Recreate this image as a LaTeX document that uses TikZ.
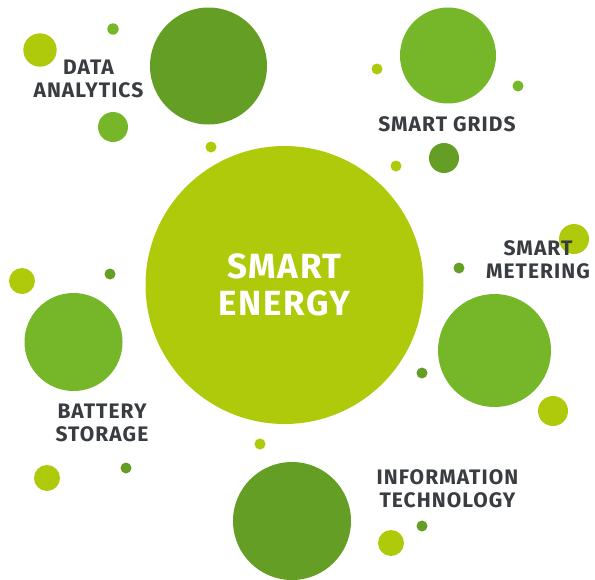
\documentclass[tikz,border=0pt]{standalone}
\usepackage{fontspec}
\setmainfont{Fira Sans}[LetterSpace=5]
\usepackage{tikz}

\definecolor{lime}{HTML}{AFCA0B}
\definecolor{midgreen}{HTML}{76B72A}
\definecolor{darkgreen}{HTML}{659E24}
\definecolor{labelgray}{HTML}{393C40}

\tikzset{
	label text/.style = {text = labelgray, align = center, inner sep = 0pt,
		font = \fontsize{21}{23}\selectfont\bfseries},
	core text/.style = {text = white, align = center, inner sep = 0pt,
		font = \fontsize{35}{37}\selectfont\bfseries}
}

\begin{document}
\begin{tikzpicture}[x = 1pt, y = -1pt]
		\useasboundingbox (0,0) rectangle (595,579);
		% big circles
		\fill[lime](284.5,285) circle[radius = 139pt];
		\fill[darkgreen](208.5,66) circle[radius = 58.5pt];
		\fill[midgreen](448,55.5) circle[radius = 48pt];
		\fill[midgreen](494.5,350.5) circle[radius = 56.5pt];
		\fill[midgreen](73.5,342) circle[radius = 49pt];
		\fill[darkgreen](292,521) circle[radius = 59pt];
		% medium dots
		\fill[lime](40,50) circle[radius = 16.7pt];
		\fill[midgreen](113,127) circle[radius = 15pt];
		\fill[darkgreen](444,158) circle[radius = 15pt];
		\fill[lime](574,239) circle[radius = 15pt];
		\fill[lime](553,411) circle[radius = 15pt];
		\fill[lime](22,281) circle[radius = 13pt];
		\fill[lime](47,478) circle[radius = 13pt];
		\fill[lime](391,543) circle[radius = 13pt];
		% small dots
		\fill[midgreen](113,29) circle[radius = 5.7pt];
		\fill[lime](211,147) circle[radius = 5.5pt];
		\fill[lime](377,69) circle[radius = 5.5pt];
		\fill[midgreen](518,86) circle[radius = 5.5pt];
		\fill[lime](396,166) circle[radius = 5.5pt];
		\fill[darkgreen](459,268) circle[radius = 5.5pt];
		\fill[darkgreen](422,373) circle[radius = 5.5pt];
		\fill[darkgreen](110,274) circle[radius = 5.5pt];
		\fill[darkgreen](126,468) circle[radius = 5.5pt];
		\fill[lime](260,444) circle[radius = 5.5pt];
		\fill[darkgreen](422,526) circle[radius = 5.5pt];
		% labels
		\node[core text] (energy) at (284.5,285) {SMART\\ENERGY};
		\node[label text] (analytics) at (88.5,78.5) {DATA\\ANALYTICS};
		\node[label text] (grids) at (447,124) {SMART GRIDS};
		\node[label text] (metering) at (538,259.5) {SMART\\METERING};
		\node[label text] (battery) at (102,422.5) {BATTERY\\STORAGE};
		\node[label text] (infotech) at (447.5,488.5) {INFORMATION\\TECHNOLOGY};
	\end{tikzpicture}
\end{document}
